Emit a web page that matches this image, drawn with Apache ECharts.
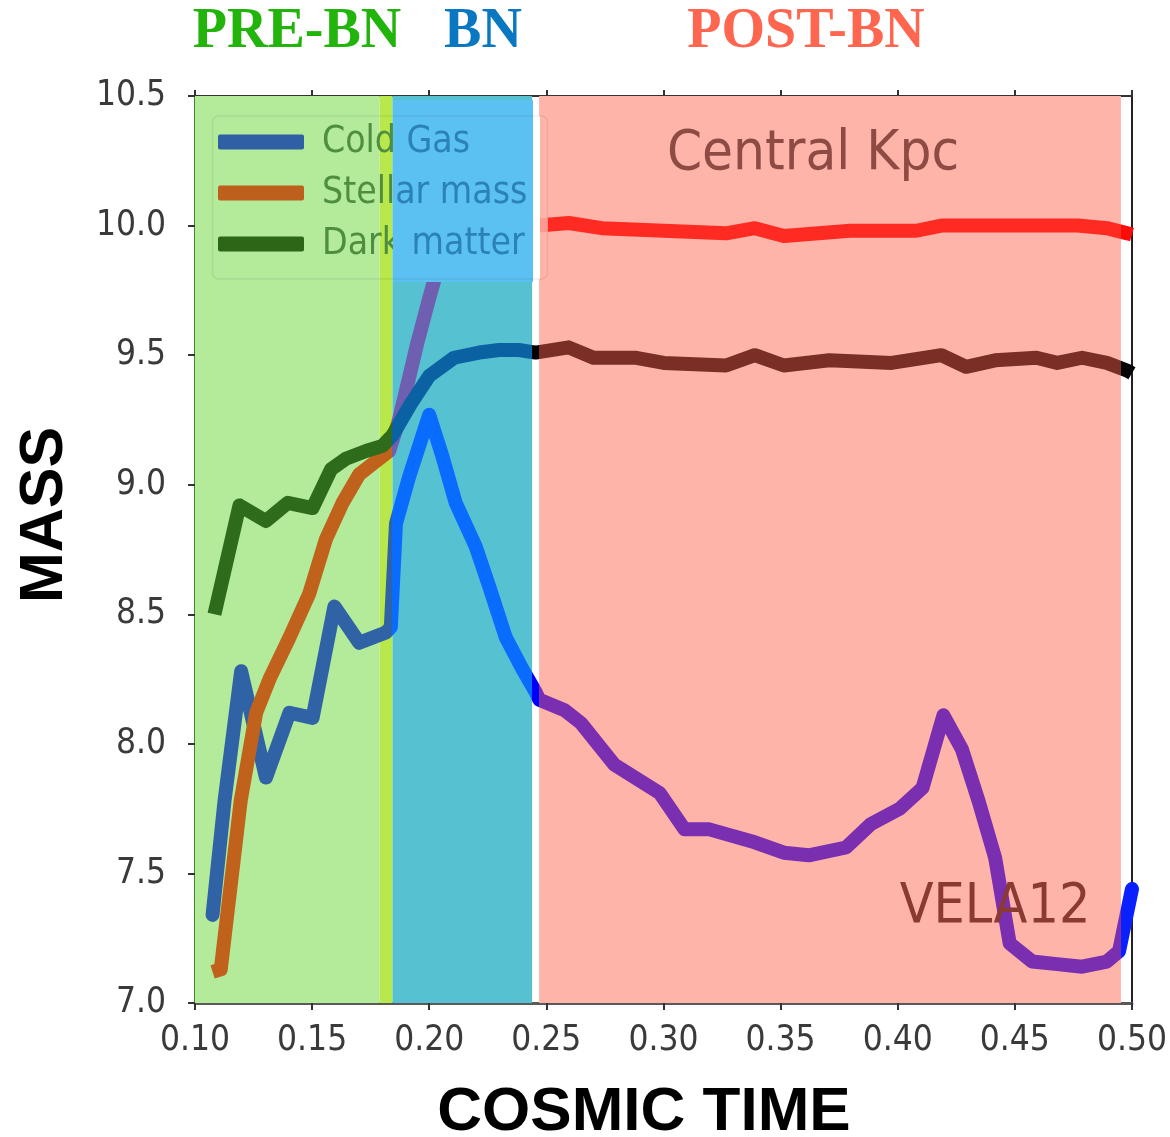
<!DOCTYPE html>
<html><head><meta charset="utf-8">
<script src="https://cdn.jsdelivr.net/npm/echarts@6/dist/echarts.min.js"></script>
<style>html,body{margin:0;padding:0;background:#fff}#c{width:1170px;height:1137px}</style>
</head><body><div id="c"></div>
<script>
// ---- data ----
const coldGasTime = [0.1075, 0.1126, 0.1197, 0.1303, 0.1403, 0.1502, 0.1595, 0.1701, 0.1815, 0.1836, 0.1858, 0.1914, 0.2000, 0.2056, 0.2113, 0.2199, 0.2255, 0.2327, 0.2397, 0.2454, 0.2470, 0.2578, 0.2648, 0.2790, 0.2984, 0.3090, 0.3196, 0.3390, 0.3514, 0.3620, 0.3779, 0.3885, 0.4009, 0.4106, 0.4195, 0.4274, 0.4345, 0.4416, 0.4478, 0.4574, 0.4681, 0.4787, 0.4893, 0.4945, 0.5000];
const coldGasMass = [7.34, 7.78, 8.28, 7.87, 8.12, 8.10, 8.53, 8.39, 8.43, 8.45, 8.85, 9.03, 9.27, 9.11, 8.93, 8.76, 8.61, 8.41, 8.29, 8.20, 8.17, 8.13, 8.08, 7.92, 7.81, 7.67, 7.67, 7.62, 7.58, 7.57, 7.60, 7.69, 7.75, 7.83, 8.11, 7.98, 7.78, 7.56, 7.23, 7.16, 7.15, 7.14, 7.16, 7.20, 7.44];

const stellarTime = [0.1075, 0.1110, 0.1195, 0.1261, 0.1318, 0.1403, 0.1488, 0.1559, 0.1630, 0.1701, 0.1744, 0.1829, 0.1871, 0.1950, 0.2000, 0.2050, 0.2100, 0.2200, 0.2350, 0.2469, 0.2595, 0.2737, 0.3001, 0.3267, 0.3390, 0.3514, 0.3797, 0.4080, 0.4186, 0.4327, 0.4592, 0.4769, 0.4893, 0.4981, 0.5000];
const stellarMass = [7.12, 7.13, 7.78, 8.12, 8.25, 8.41, 8.58, 8.79, 8.93, 9.04, 9.07, 9.13, 9.25, 9.55, 9.72, 9.88, 9.97, 10.00, 10.00, 10.00, 10.01, 9.99, 9.98, 9.97, 9.99, 9.96, 9.98, 9.98, 10.00, 10.00, 10.00, 10.00, 9.99, 9.97, 9.965];

const darkMatterTime = [0.1083, 0.1190, 0.1303, 0.1396, 0.1502, 0.1581, 0.1644, 0.1730, 0.1800, 0.1843, 0.1920, 0.2000, 0.2106, 0.2213, 0.2298, 0.2383, 0.2454, 0.2595, 0.2701, 0.2878, 0.3001, 0.3267, 0.3390, 0.3514, 0.3708, 0.3974, 0.4186, 0.4292, 0.4416, 0.4592, 0.4681, 0.4787, 0.4893, 0.4981, 0.5000];
const darkMatterMass = [8.50, 8.92, 8.86, 8.93, 8.91, 9.06, 9.10, 9.13, 9.15, 9.19, 9.31, 9.42, 9.49, 9.51, 9.52, 9.52, 9.51, 9.53, 9.49, 9.49, 9.47, 9.46, 9.50, 9.46, 9.48, 9.47, 9.50, 9.455, 9.48, 9.49, 9.47, 9.49, 9.47, 9.44, 9.43];

const seriesNames = ['Cold Gas', 'Stellar mass', 'Dark matter'];
const phaseNames = ['PRE-BN', 'BN', 'POST-BN'];
// shaded phase bands along cosmic time: [start, end]
const regionStart = [0.1000, 0.1788, 0.1843, 0.2469];
const regionEnd   = [0.1788, 0.1843, 0.2439, 0.4953];
// where the line tint changes
const tintBreaks = [0.1843, 0.2439, 0.2469, 0.4953];

// ---- styles ----
const regionColors = ['#b3eb9b', '#b8e84c', '#56c1d1', '#ffb4a9'];
const gasTints = ['#3062a6', '#0a6cff', '#0000ff', '#7a2eb0', '#0a20ff'];
const stellarTints = ['#c0621c', '#6e5fb0', '#ff1a10', '#ff2a22', '#ff0a0a'];
const dmTints = ['#2e6b1a', '#0b62a3', '#000000', '#7a2e26', '#050505'];
const legendColors = ['#2f5fa4', '#bc601c', '#2c6718'];

function pairs(xs, ys) { return xs.map((x, i) => [x, ys[i]]); }
function pieces(c) {
  const b = tintBreaks;
  return [
    {lt: b[0], color: c[0]},
    {gte: b[0], lt: b[1], color: c[1]},
    {gte: b[1], lt: b[2], color: c[2]},
    {gte: b[2], lt: b[3], color: c[3]},
    {gte: b[3], color: c[4]}
  ];
}

const mplFont = "'DejaVu Sans Condensed', 'DejaVu Sans'";
const lineW = 14;

const chart = echarts.init(document.getElementById('c'), null, {renderer: 'canvas'});

const regionData = regionStart.map((s, i) => [s, regionEnd[i], i]);

const legendTop = [142, 193, 244];
const legendBlueParts = [['Cold', ' Gas'], ['Stell', 'ar mass'], ['Dark', ' matter']];

const graphics = [];
// phase titles
[[phaseNames[0], 297, '#22b40a'], [phaseNames[1], 483, '#0a78c0'], [phaseNames[2], 806, '#ff6650']].forEach(t => {
  graphics.push({type: 'text', x: t[1], y: 33, z: 100, style: {text: t[0], fill: t[2], font: 'bold 56px "Liberation Serif", "Times New Roman", serif', align: 'center', verticalAlign: 'middle'}});
});
// axis titles
graphics.push({type: 'text', x: 644, y: 1113, z: 100, style: {text: 'COSMIC TIME', fill: '#000', font: 'bold 62px "Liberation Sans", Arial, sans-serif', align: 'center', verticalAlign: 'middle'}});
graphics.push({type: 'text', x: 45, y: 515, rotation: Math.PI / 2, z: 100, style: {text: 'MASS', fill: '#000', font: 'bold 61px "Liberation Sans", Arial, sans-serif', align: 'center', verticalAlign: 'middle'}});
// annotations
graphics.push({type: 'text', x: 813, y: 154, z: 100, style: {text: 'Central Kpc', fill: '#8e4b44', font: '56px ' + mplFont, align: 'center', verticalAlign: 'middle'}});
graphics.push({type: 'text', x: 995, y: 908, z: 100, style: {text: 'VELA12', fill: '#8b3a33', font: '55px ' + mplFont, align: 'center', verticalAlign: 'middle'}});
// legend (matplotlib-like box, tinted by the phase overlays)
seriesNames.forEach((n, i) => {
  graphics.push({type: 'rect', z: 101, shape: {x: 218, y: legendTop[i] - 7.5, width: 86, height: 15, r: 2}, style: {fill: legendColors[i]}});
  graphics.push({type: 'text', x: 322, y: legendTop[i], z: 101, style: {text: n, fill: '#4f8d3f', font: '37px ' + mplFont, align: 'left', verticalAlign: 'middle'}});
});
graphics.push({type: 'rect', z: 102, shape: {x: 393, y: 100, width: 140, height: 182}, style: {fill: '#5bc0f2'}});
graphics.push({type: 'rect', z: 102, shape: {x: 533, y: 116, width: 7, height: 163}, style: {fill: '#ffffff'}});
graphics.push({type: 'rect', z: 102, shape: {x: 540, y: 116, width: 8, height: 163}, style: {fill: '#ffb4a9', opacity: 0.8}});
seriesNames.forEach((n, i) => {
  const p = legendBlueParts[i];
  graphics.push({type: 'text', x: 322, y: legendTop[i], z: 103, style: {
    text: '{h|' + p[0] + '}{v|' + p[1] + '}',
    font: '37px ' + mplFont, align: 'left', verticalAlign: 'middle',
    rich: {h: {fill: 'rgba(0,0,0,0)', fontSize: 37, fontFamily: mplFont}, v: {fill: '#2a82b8', fontSize: 37, fontFamily: mplFont}}
  }});
});
graphics.push({type: 'rect', z: 104, shape: {x: 212.5, y: 116, width: 335, height: 163, r: 6}, style: {fill: 'none', stroke: 'rgba(0,0,0,0.07)', lineWidth: 1.5}});

const tickLabel = {fontFamily: mplFont, fontSize: 35, color: '#3a3a3a'};

chart.setOption({
  animation: false,
  backgroundColor: '#ffffff',
  grid: {left: 195, right: 36, top: 96, bottom: 134, containLabel: false},
  xAxis: [
    {type: 'value', min: 0.10, max: 0.50, interval: 0.05,
     axisLabel: Object.assign({formatter: v => v.toFixed(2), margin: 20}, tickLabel),
     axisLine: {lineStyle: {color: '#5a5a5a', width: 3}},
     axisTick: {length: 7, lineStyle: {color: '#333', width: 2}},
     splitLine: {show: false}},
    {type: 'value', position: 'top', min: 0.10, max: 0.50, interval: 0.05,
     axisLabel: {show: false},
     axisLine: {lineStyle: {color: '#333', width: 2}},
     axisTick: {length: 6, lineStyle: {color: '#333', width: 2}},
     splitLine: {show: false}}
  ],
  yAxis: [
    {type: 'value', min: 7.0, max: 10.5, interval: 0.5,
     axisLabel: Object.assign({formatter: v => v.toFixed(1), margin: 29}, tickLabel),
     axisLine: {show: true, lineStyle: {color: '#3d8a2b', width: 3}},
     axisTick: {show: true, length: 7, lineStyle: {color: '#333', width: 2}},
     splitLine: {show: false}},
    {type: 'value', position: 'right', min: 7.0, max: 10.5, interval: 0.5,
     axisLabel: {show: false},
     axisLine: {show: true, lineStyle: {color: '#222', width: 2}},
     axisTick: {show: false},
     splitLine: {show: false}}
  ],
  visualMap: [
    {type: 'piecewise', show: false, dimension: 0, seriesIndex: 1, pieces: pieces(gasTints)},
    {type: 'piecewise', show: false, dimension: 0, seriesIndex: 2, pieces: pieces(stellarTints)},
    {type: 'piecewise', show: false, dimension: 0, seriesIndex: 3, pieces: pieces(dmTints)}
  ],
  series: [
    {type: 'custom', name: 'phases', z: 1, silent: true, xAxisIndex: 0, yAxisIndex: 0,
     data: regionData,
     renderItem: function (params, api) {
       const p0 = api.coord([api.value(0), 10.5]);
       const p1 = api.coord([api.value(1), 7.0]);
       return {type: 'rect', shape: {x: p0[0], y: p0[1], width: p1[0] - p0[0], height: p1[1] - p0[1]},
               style: {fill: regionColors[api.value(2)]}};
     }},
    {type: 'line', name: seriesNames[0], z: 3, data: pairs(coldGasTime, coldGasMass), showSymbol: false,
     lineStyle: {width: lineW, join: 'round', cap: 'round'}},
    {type: 'line', name: seriesNames[1], z: 3, data: pairs(stellarTime, stellarMass), showSymbol: false,
     lineStyle: {width: lineW, join: 'round', cap: 'butt'}},
    {type: 'line', name: seriesNames[2], z: 4, data: pairs(darkMatterTime, darkMatterMass), showSymbol: false,
     lineStyle: {width: lineW, join: 'round', cap: 'butt'}}
  ],
  graphic: graphics
});
</script></body></html>
